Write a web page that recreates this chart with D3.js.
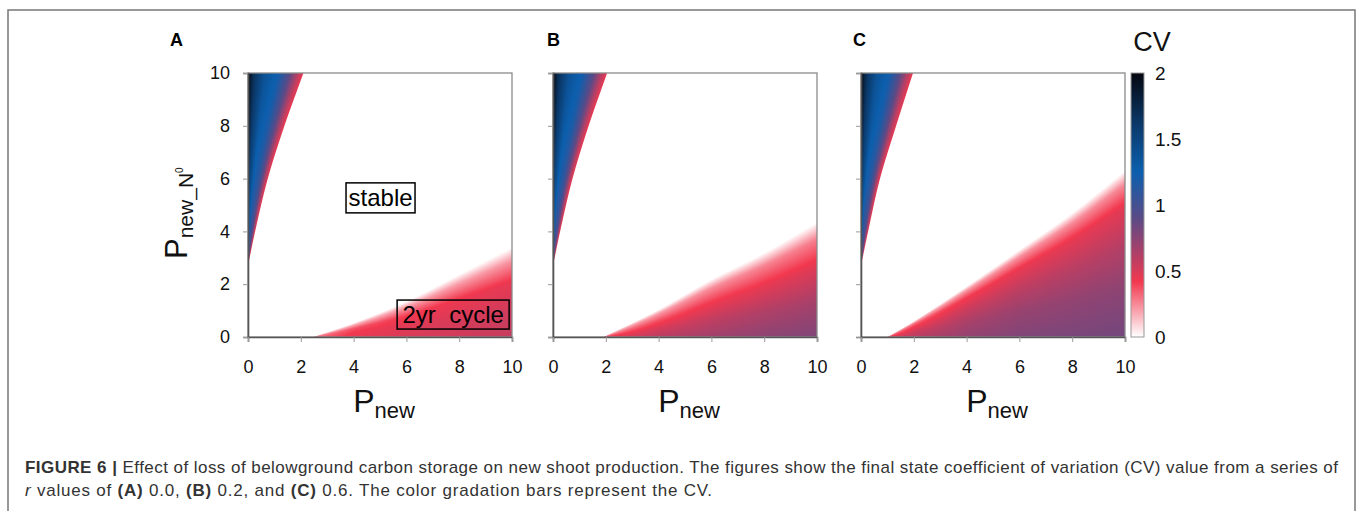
<!DOCTYPE html>
<html>
<head>
<meta charset="utf-8">
<script src="https://cdn.jsdelivr.net/npm/d3@7"></script>
<style>
  body { margin: 0; background: #fff; }
  svg { display: block; font-family: "Liberation Sans", Arial, sans-serif; }
</style>
</head>
<body>
<svg id="fig" width="1360" height="511"></svg>
<script>
// ---- data ----
var axisTicks = [0, 2, 4, 6, 8, 10];
var cvTicks = [0, 0.5, 1, 1.5, 2];
var panelNames = ["A", "B", "C"];

// bovenste wig: rand (Pnew) bij een gegeven Pnew_N0
var wedgeN0 = [2.7, 4, 6, 8, 10];
var wedgeEdgeA = [0, 0.27, 0.75, 1.38, 2.1];
var wedgeEdgeB = [0, 0.27, 0.74, 1.35, 2.05];
var wedgeEdgeC = [0, 0.27, 0.72, 1.33, 1.97];
// CV langs Pnew = 0
var wedgeLeftCV = [1.2, 1.5, 1.75, 1.9, 2.0];
// relatieve positie in de wig (0 = as, 1 = rand) en gewicht
var wedgeFrac = [0, 0.1, 0.3, 0.55, 0.75, 0.9, 1];
var wedgeWeight = [1, 0.8, 0.6, 0.5, 0.3, 0.1, 0];
var wedgeEdgeCV = 0.45;

// onderste gebied (2yr cycle): rand (Pnew_N0) bij Pnew
var cycleP_A = [2.45, 4, 6, 8, 10];
var cycleN0_A = [0, 0.53, 1.35, 2.37, 3.4];
var cycleBottomCV_A = [0.3, 0.45, 0.5, 0.53, 0.56];
var cycleDepthA = [0, 0.15, 0.4, 0.7, 1];
var cycleShapeA = [0, 0.4, 0.82, 0.95, 1];

var cycleP_B = [1.9, 4, 6, 8, 10];
var cycleN0_B = [0, 1.04, 2.18, 3.19, 4.35];
var cycleBottomCV_B = [0.45, 0.6, 0.68, 0.74, 0.78];
var cycleDepthB = [0, 0.15, 0.4, 0.7, 1];
var cycleShapeB = [0, 0.35, 0.62, 0.85, 1];

var cycleP_C = [1.0, 2, 4, 6, 8, 10];
var cycleN0_C = [0, 0.6, 1.92, 3.3, 4.7, 6.3];
var cycleBottomCV_C = [0.45, 0.6, 0.72, 0.78, 0.8, 0.82];
var cycleDepthC = [0, 0.08, 0.22, 0.45, 0.7, 1];
var cycleShapeC = [0, 0.3, 0.57, 0.75, 0.9, 1];

// kleurenschaal van de CV balk
var cvStops = [0, 0.42, 0.9, 1.25, 1.6, 2];
var cvColors = ["#ffffff", "#f2384f", "#5a4a86", "#0c5fae", "#0b3a6c", "#05070f"];

var panelData = [
  {name: "A", edge: wedgeEdgeA, cP: cycleP_A, cN: cycleN0_A, cB: cycleBottomCV_A, cD: cycleDepthA, cS: cycleShapeA},
  {name: "B", edge: wedgeEdgeB, cP: cycleP_B, cN: cycleN0_B, cB: cycleBottomCV_B, cD: cycleDepthB, cS: cycleShapeB},
  {name: "C", edge: wedgeEdgeC, cP: cycleP_C, cN: cycleN0_C, cB: cycleBottomCV_C, cD: cycleDepthC, cS: cycleShapeC}
];

// ---- layout ----
var svg = d3.select("#fig");
var panelLeft = [248, 553, 861];
var letterX = [170, 547, 853];
var plotTop = 73, plotSize = 264;

var color = d3.scaleLinear().domain(cvStops).range(cvColors).interpolate(d3.interpolateRgb).clamp(true);

function smooth(xs, ys) {
  var n = xs.length, d = [], m = [];
  for (var i = 0; i < n - 1; i++) d.push((ys[i + 1] - ys[i]) / (xs[i + 1] - xs[i]));
  m[0] = d[0]; m[n - 1] = d[n - 2];
  for (i = 1; i < n - 1; i++) m[i] = (d[i - 1] + d[i]) / 2;
  return function(x) {
    if (x <= xs[0]) return ys[0];
    if (x >= xs[n - 1]) return ys[n - 1];
    var k = Math.min(n - 2, d3.bisectRight(xs, x) - 1);
    var h = xs[k + 1] - xs[k], t = (x - xs[k]) / h, t2 = t * t, t3 = t2 * t;
    return (2 * t3 - 3 * t2 + 1) * ys[k] + (t3 - 2 * t2 + t) * h * m[k] +
           (-2 * t3 + 3 * t2) * ys[k + 1] + (t3 - t2) * h * m[k + 1];
  };
}

// buitenste kader
svg.append("rect")
  .attr("x", 8).attr("y", 10).attr("width", 1347).attr("height", 540)
  .attr("fill", "none").attr("stroke", "#777").attr("stroke-width", 1.5);

function fieldImage(p) {
  var n = plotSize;
  var canvas = document.createElement("canvas");
  canvas.width = n; canvas.height = n;
  var ctx = canvas.getContext("2d");
  var img = ctx.createImageData(n, n);
  var cx = d3.scaleLinear().domain([0, 10]).range([0, n]);
  var cy = d3.scaleLinear().domain([0, 10]).range([n, 0]);

  var wEdge = smooth(wedgeN0, p.edge);
  var wLeft = d3.scaleLinear().domain(wedgeN0).range(wedgeLeftCV).clamp(true);
  var wShape = d3.scaleLinear().domain(wedgeFrac).range(wedgeWeight).clamp(true);
  var cEdge = smooth(p.cP, p.cN);
  var cBottom = d3.scaleLinear().domain(p.cP).range(p.cB).clamp(true);
  var cShape = d3.scaleLinear().domain(p.cD).range(p.cS).clamp(true);
  var pxUnit = n / 10;

  for (var j = 0; j < n; j++) {
    var y = cy.invert(j + 0.5);
    for (var i = 0; i < n; i++) {
      var x = cx.invert(i + 0.5);
      var r = 255, g = 255, b = 255;
      if (y >= wedgeN0[0]) {
        var e = wEdge(y);
        var cov = Math.max(0, Math.min(1, (e - x) * pxUnit + 0.5));
        if (cov > 0) {
          var s = e > 0 ? Math.min(1, x / e) : 1;
          var cv = wedgeEdgeCV + (wLeft(y) - wedgeEdgeCV) * wShape(s);
          var c = d3.rgb(color(cv));
          r = 255 + (c.r - 255) * cov;
          g = 255 + (c.g - 255) * cov;
          b = 255 + (c.b - 255) * cov;
        }
      }
      if (x >= p.cP[0]) {
        var ye = cEdge(x);
        if (y <= ye && ye > 0) {
          var t = 1 - y / ye;
          var c2 = d3.rgb(color(cBottom(x) * cShape(t)));
          r = c2.r; g = c2.g; b = c2.b;
        }
      }
      var k = (j * n + i) * 4;
      img.data[k] = r; img.data[k + 1] = g; img.data[k + 2] = b; img.data[k + 3] = 255;
    }
  }
  ctx.putImageData(img, 0, 0);
  return canvas.toDataURL();
}

panelData.forEach(function(p, idx) {
  var x0 = panelLeft[idx];
  var x = d3.scaleLinear().domain([0, 10]).range([x0, x0 + plotSize]);
  var y = d3.scaleLinear().domain([0, 10]).range([plotTop + plotSize, plotTop]);
  var g = svg.append("g");

  g.append("image")
    .attr("x", x(0)).attr("y", y(10))
    .attr("width", x(10) - x(0)).attr("height", y(0) - y(10))
    .attr("preserveAspectRatio", "none")
    .attr("href", fieldImage(p));

  g.append("rect")
    .attr("x", x(0)).attr("y", y(10))
    .attr("width", x(10) - x(0)).attr("height", y(0) - y(10))
    .attr("fill", "none").attr("stroke", "#8a8a8a").attr("stroke-width", 1.3);

  var yAxis = d3.axisLeft(y).tickValues(axisTicks).tickSize(5).tickPadding(13);
  if (idx > 0) yAxis.tickFormat("");
  var ya = g.append("g").attr("transform", "translate(" + x(0) + ",0)").call(yAxis);
  var xa = g.append("g").attr("transform", "translate(0," + y(0) + ")")
    .call(d3.axisBottom(x).tickValues(axisTicks).tickSize(5).tickPadding(18));
  [ya, xa].forEach(function(a) {
    a.select(".domain").attr("stroke", "#555").attr("stroke-width", 1.6);
    a.selectAll(".tick line").attr("stroke", "#999");
    a.selectAll(".tick text").attr("font-size", 18).attr("fill", "#111")
      .attr("font-family", "Liberation Sans, Arial, sans-serif");
  });

  // paneelletter
  g.append("text")
    .attr("x", letterX[idx]).attr("y", 46)
    .attr("font-size", 18).attr("font-weight", "bold").attr("fill", "#000")
    .text(p.name);

  // x-as titel
  var xt = g.append("text")
    .attr("x", (x(0) + x(10)) / 2 + 4).attr("y", 412)
    .attr("text-anchor", "middle").attr("fill", "#111");
  xt.append("tspan").attr("font-size", 32).text("P");
  xt.append("tspan").attr("font-size", 22).attr("dy", 6).text("new");

  if (idx === 0) {
    var yt = g.append("text")
      .attr("transform", "translate(187,259) rotate(-90)")
      .attr("fill", "#111");
    yt.append("tspan").attr("font-size", 31).text("P");
    yt.append("tspan").attr("font-size", 21).attr("dy", 6).text("new_N");
    yt.append("tspan").attr("font-size", 10).attr("dy", -10).text("0");

    // annotaties
    var lab1 = g.append("g").attr("transform", "translate(" + x(5.02) + "," + y(5.27) + ")");
    lab1.append("rect").attr("x", -34.5).attr("y", -15).attr("width", 69).attr("height", 30)
      .attr("fill", "#fff").attr("stroke", "#000").attr("stroke-width", 1.5);
    lab1.append("text").attr("text-anchor", "middle").attr("y", 8.5)
      .attr("font-size", 24).attr("fill", "#000").text("stable");

    var lab2 = g.append("g").attr("transform", "translate(" + x(7.77) + "," + y(0.85) + ")");
    lab2.append("rect").attr("x", -56).attr("y", -14.5).attr("width", 112).attr("height", 29)
      .attr("fill", "none").attr("stroke", "#000").attr("stroke-width", 1.5);
    lab2.append("text").attr("text-anchor", "middle").attr("y", 8.5)
      .attr("font-size", 24).attr("fill", "#000").attr("xml:space", "preserve").text("2yr  cycle");
  }
});

// kleurenbalk
var cbX = 1131, cbW = 13;
var cbY = d3.scaleLinear().domain([0, 2]).range([plotTop + plotSize, plotTop]);
var grad = svg.append("defs").append("linearGradient")
  .attr("id", "cvgrad").attr("x1", 0).attr("y1", 1).attr("x2", 0).attr("y2", 0);
grad.selectAll("stop").data(cvStops).enter().append("stop")
  .attr("offset", function(d) { return d / 2; })
  .attr("stop-color", function(d) { return color(d); });
svg.append("rect")
  .attr("x", cbX).attr("y", cbY(2)).attr("width", cbW).attr("height", cbY(0) - cbY(2))
  .attr("fill", "url(#cvgrad)").attr("stroke", "#999").attr("stroke-width", 1);
svg.append("g").selectAll("text").data(cvTicks).enter().append("text")
  .attr("x", 1155).attr("y", function(d) { return cbY(d); }).attr("dy", "0.36em")
  .attr("font-size", 19).attr("fill", "#111")
  .text(function(d) { return d; });
svg.append("text")
  .attr("x", 1152).attr("y", 51).attr("text-anchor", "middle")
  .attr("font-size", 27).attr("fill", "#111").text("CV");

// onderschrift
var cap1 = svg.append("text").attr("x", 25).attr("y", 473)
  .attr("font-size", 17).attr("fill", "#333")
  .attr("textLength", 1313).attr("lengthAdjust", "spacing");
cap1.append("tspan").attr("font-weight", "bold").text("FIGURE 6 | ");
cap1.append("tspan").text("Effect of loss of belowground carbon storage on new shoot production. The figures show the final state coefficient of variation (CV) value from a series of");

var cap2 = svg.append("text").attr("x", 25).attr("y", 496)
  .attr("font-size", 17).attr("fill", "#333")
  .attr("textLength", 687).attr("lengthAdjust", "spacing");
cap2.append("tspan").attr("font-style", "italic").text("r");
cap2.append("tspan").text(" values of ");
cap2.append("tspan").attr("font-weight", "bold").text("(A)");
cap2.append("tspan").text(" 0.0, ");
cap2.append("tspan").attr("font-weight", "bold").text("(B)");
cap2.append("tspan").text(" 0.2, and ");
cap2.append("tspan").attr("font-weight", "bold").text("(C)");
cap2.append("tspan").text(" 0.6. The color gradation bars represent the CV.");
</script>
</body>
</html>
